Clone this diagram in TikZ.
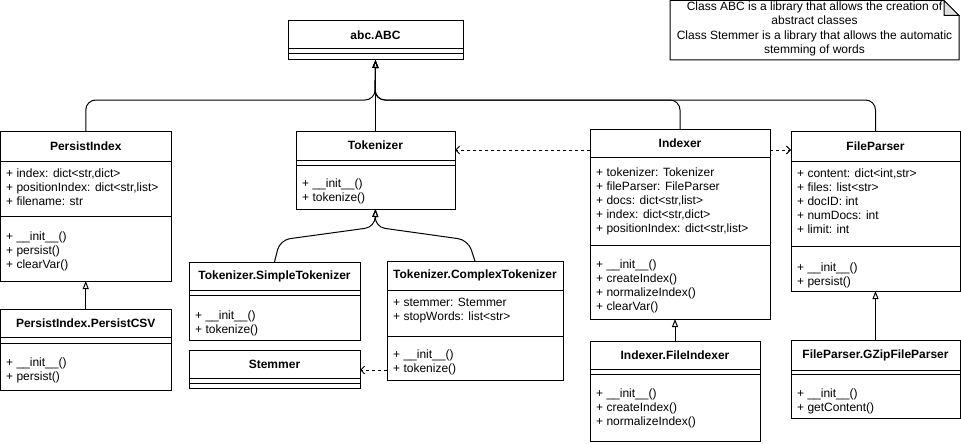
\documentclass[tikz,border=0pt]{standalone}
\usepackage{fontspec}
\setmainfont{Liberation Sans}
\usetikzlibrary{arrows.meta,calc}
\tikzset{
  cls/.style={draw=black, line width=1pt, rectangle, inner sep=0pt, outer sep=0pt, fill=white},
  ttl/.style={font=\fontsize{12}{14}\selectfont\bfseries, inner sep=0pt},
  mem/.style={font=\fontsize{12}{14}\selectfont, inner sep=0pt, anchor=base west},
  divl/.style={line width=1pt},
  inh/.style={line width=1pt, -{Triangle[open,length=8pt,width=6pt]}},
  dep/.style={line width=1pt, dash pattern=on 3pt off 3pt, -{Straight Barb[length=4pt,width=8pt]}},
  notebox/.style={line width=1pt, fill=white},
}
% class box: name, x1, y1, x2, y2, header bottom, title
\newcommand\ucls[7]{%
  \node[cls, minimum width={#4-#2}, minimum height={#5-#3}, anchor=north west] (#1) at (#2,#3) {};
  \node[ttl] (#1-t) at ({(#2+#4)/2},{(#3+#6)/2}) {#7};
  \draw[divl] (#2,#6) -- (#4,#6);
}
\newcommand\udiv[3]{\draw[divl] (#1,#3) -- (#2,#3);}
% members: prefix, x, first baseline, list
\newcommand\umem[4]{%
  \foreach \t [count=\i] in {#4} {\node[mem] (#1-\i) at (#2,{#3+(\i-1)*14}) {\t};}
}
\begin{document}
\begin{tikzpicture}[x=1pt,y=-1pt]
\useasboundingbox (0,0) rectangle (961,444);

% ---------- connectors (drawn first) ----------
\coordinate (bus) at (375,100);
\coordinate (tb) at (375,227);

% ---------- boxes ----------
\ucls{abc}{288}{21}{463}{60}{49}{abc.ABC}
\udiv{288}{463}{54}

\ucls{pi}{0.5}{131}{171}{281}{161}{PersistIndex}
\udiv{0.5}{171}{216}
\umem{pia}{6}{177}{{+ index: dict<str,dict>},{+ positionIndex: dict<str,list>},{+ filename: str}}
\umem{pim}{6}{240}{{+ \_\_init\_\_()},{+ persist()},{+ clearVar()}}

\ucls{pc}{0.5}{309}{171}{390}{337}{PersistIndex.PersistCSV}
\udiv{0.5}{171}{343}
\umem{pcm}{6}{366}{{+ \_\_init\_\_()},{+ persist()}}

\ucls{tok}{296}{131}{455}{209}{160}{Tokenizer}
\udiv{296}{455}{165}
\umem{tokm}{302}{187}{{+ \_\_init\_\_()},{+ tokenize()}}

\ucls{st}{189}{262}{360}{340}{290}{Tokenizer.SimpleTokenizer}
\udiv{189}{360}{295}
\umem{stm}{195}{319}{{+ \_\_init\_\_()},{+ tokenize()}}

\ucls{stem}{189}{350}{360}{388}{378}{Stemmer}
\udiv{189}{360}{383}

\ucls{ct}{387}{261}{563}{380}{290}{Tokenizer.ComplexTokenizer}
\udiv{387}{563}{336}
\umem{cta}{393}{306}{{+ stemmer: Stemmer},{+ stopWords: list<str>}}
\umem{ctm}{393}{358}{{+ \_\_init\_\_()},{+ tokenize()}}

\ucls{ix}{590}{129}{770}{319}{157}{Indexer}
\udiv{590}{770}{245}
\umem{ixa}{596}{176}{{+ tokenizer: Tokenizer},{+ fileParser: FileParser},{+ docs: dict<str,list>},{+ index: dict<str,dict>},{+ positionIndex: dict<str,list>}}
\umem{ixm}{596}{268}{{+ \_\_init\_\_()},{+ createIndex()},{+ normalizeIndex()},{+ clearVar()}}

\ucls{fi}{590}{341}{760}{441}{369}{Indexer.FileIndexer}
\udiv{590}{760}{374}
\umem{fim}{596}{397}{{+ \_\_init\_\_()},{+ createIndex()},{+ normalizeIndex()}}

\ucls{fp}{791}{131}{960}{291}{161}{FileParser}
\udiv{791}{960}{246}
\umem{fpa}{797}{177}{{+ content: dict<int,str>},{+ files: list<str>},{+ docID: int},{+ numDocs: int},{+ limit: int}}
\umem{fpm}{797}{271}{{+ \_\_init\_\_()},{+ persist()}}

\ucls{gz}{791}{340}{960}{418}{370}{FileParser.GZipFileParser}
\udiv{791}{960}{374}
\umem{gzm}{797}{397}{{+ \_\_init\_\_()},{+ getContent()}}

% ---------- inheritance ----------
\draw[inh, rounded corners=10] (pi.north) |- (bus) -- (abc.south);
\draw[inh, rounded corners=10] (ix.north) |- (bus) -- (abc.south);
\draw[inh, rounded corners=10] (fp.north) |- (bus) -- (abc.south);
\draw[inh] (tok.north) -- (abc.south);
\draw[inh, rounded corners=10] (st.north) -- (280,240) -- (tb) -- (tok.south);
\draw[inh, rounded corners=10] (ct.north) -- (468,240) -- (tb) -- (tok.south);
\draw[inh] (pc.north) -- (pi.south);
\draw[inh] (fi.north) -- (fi.north |- ix.south);
\draw[inh] (gz.north) -- (fp.south);

% ---------- dependencies ----------
\coordinate (d1) at (590,150);
\draw[dep] (d1) -- (d1 -| tok.east);
\draw[dep] (ix.east |- d1) -- (fp.west |- d1);
\coordinate (d3) at (387,370);
\draw[dep] (d3) -- (d3 -| stem.east);

% ---------- note ----------
\draw[notebox] (670,0.5) -- (944,0.5) -- (959,15.5) -- (959,60) -- (670,60) -- cycle;
\draw[line width=1pt, fill=black!12] (944,0.5) -- (944,15.5) -- (959,15.5) -- cycle;
\node[align=center, font=\fontsize{12}{14.3}\selectfont, inner sep=0pt] (note) at (814.5,29)
  {Class ABC is a library that allows the creation of\\abstract classes\\Class Stemmer is a library that allows the automatic\\stemming of words};
\end{tikzpicture}
\end{document}
